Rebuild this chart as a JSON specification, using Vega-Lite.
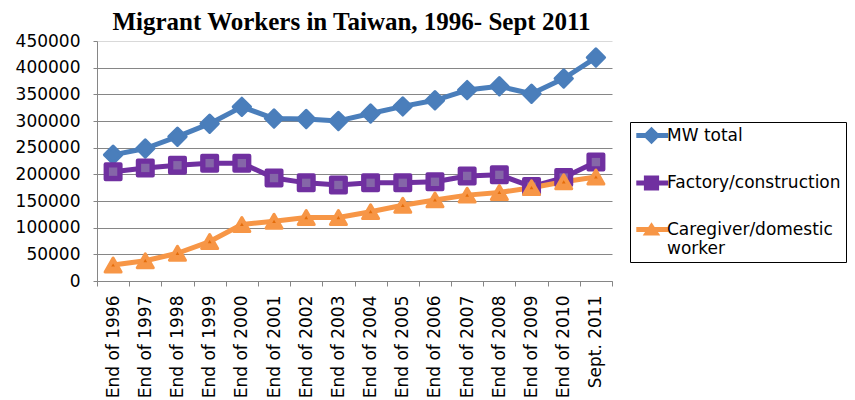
{
  "$schema": "https://vega.github.io/schema/vega-lite/v6.json",
  "autosize": "none",
  "width": 515,
  "height": 240,
  "padding": {"left": 97, "top": 41, "right": 243, "bottom": 119},
  "background": "white",
  "config": {
    "view": {"stroke": null},
    "font": "DejaVu Sans"
  },
  "title": {
    "text": "Migrant Workers in Taiwan, 1996- Sept 2011",
    "font": "Liberation Serif",
    "fontSize": 25,
    "fontWeight": "bold",
    "color": "black",
    "anchor": "middle",
    "frame": "group",
    "baseline": "alphabetic",
    "offset": -23,
    "dx": -3
  },
  "data": {
    "values": [
      {"period": "End of 1996", "series": "MW total", "value": 236555},
      {"period": "End of 1997", "series": "MW total", "value": 248396},
      {"period": "End of 1998", "series": "MW total", "value": 270620},
      {"period": "End of 1999", "series": "MW total", "value": 294967},
      {"period": "End of 2000", "series": "MW total", "value": 326515},
      {"period": "End of 2001", "series": "MW total", "value": 304605},
      {"period": "End of 2002", "series": "MW total", "value": 303684},
      {"period": "End of 2003", "series": "MW total", "value": 300150},
      {"period": "End of 2004", "series": "MW total", "value": 314034},
      {"period": "End of 2005", "series": "MW total", "value": 327396},
      {"period": "End of 2006", "series": "MW total", "value": 338755},
      {"period": "End of 2007", "series": "MW total", "value": 357937},
      {"period": "End of  2008", "series": "MW total", "value": 365060},
      {"period": "End of 2009", "series": "MW total", "value": 351016},
      {"period": "End of 2010", "series": "MW total", "value": 379653},
      {"period": "Sept. 2011", "series": "MW total", "value": 419000},
      {"period": "End of 1996", "series": "Factory/construction", "value": 205000},
      {"period": "End of 1997", "series": "Factory/construction", "value": 212000},
      {"period": "End of 1998", "series": "Factory/construction", "value": 217000},
      {"period": "End of 1999", "series": "Factory/construction", "value": 221000},
      {"period": "End of 2000", "series": "Factory/construction", "value": 221000},
      {"period": "End of 2001", "series": "Factory/construction", "value": 193000},
      {"period": "End of 2002", "series": "Factory/construction", "value": 184000},
      {"period": "End of 2003", "series": "Factory/construction", "value": 180000},
      {"period": "End of 2004", "series": "Factory/construction", "value": 184000},
      {"period": "End of 2005", "series": "Factory/construction", "value": 184000},
      {"period": "End of 2006", "series": "Factory/construction", "value": 186000},
      {"period": "End of 2007", "series": "Factory/construction", "value": 197000},
      {"period": "End of  2008", "series": "Factory/construction", "value": 199000},
      {"period": "End of 2009", "series": "Factory/construction", "value": 177000},
      {"period": "End of 2010", "series": "Factory/construction", "value": 194000},
      {"period": "Sept. 2011", "series": "Factory/construction", "value": 223000},
      {"period": "End of 1996", "series": "Caregiver/domestic worker", "value": 30000},
      {"period": "End of 1997", "series": "Caregiver/domestic worker", "value": 38000},
      {"period": "End of 1998", "series": "Caregiver/domestic worker", "value": 52000},
      {"period": "End of 1999", "series": "Caregiver/domestic worker", "value": 74000},
      {"period": "End of 2000", "series": "Caregiver/domestic worker", "value": 106000},
      {"period": "End of 2001", "series": "Caregiver/domestic worker", "value": 112000},
      {"period": "End of 2002", "series": "Caregiver/domestic worker", "value": 119000},
      {"period": "End of 2003", "series": "Caregiver/domestic worker", "value": 119000},
      {"period": "End of 2004", "series": "Caregiver/domestic worker", "value": 130000},
      {"period": "End of 2005", "series": "Caregiver/domestic worker", "value": 142000},
      {"period": "End of 2006", "series": "Caregiver/domestic worker", "value": 152000},
      {"period": "End of 2007", "series": "Caregiver/domestic worker", "value": 161000},
      {"period": "End of  2008", "series": "Caregiver/domestic worker", "value": 166000},
      {"period": "End of 2009", "series": "Caregiver/domestic worker", "value": 175000},
      {"period": "End of 2010", "series": "Caregiver/domestic worker", "value": 186000},
      {"period": "Sept. 2011", "series": "Caregiver/domestic worker", "value": 195000}
    ]
  },
  "encoding": {
    "x": {
      "field": "period",
      "type": "ordinal",
      "sort": null,
      "scale": {"type": "band", "paddingInner": 0, "paddingOuter": 0},
      "axis": {
        "title": null,
        "labelAngle": -90,
        "labelAlign": "right",
        "labelBaseline": "middle",
        "labelFont": "DejaVu Sans",
        "labelFontSize": 17,
        "labelColor": "black",
        "labelPadding": 9,
        "tickBand": "extent",
        "tickSize": 5,
        "tickColor": "#868686",
        "domainColor": "#868686",
        "grid": false
      }
    },
    "y": {
      "field": "value",
      "type": "quantitative",
      "scale": {"domain": [0, 450000], "nice": false},
      "axis": {
        "title": null,
        "values": [0, 50000, 100000, 150000, 200000, 250000, 300000, 350000, 400000, 450000],
        "format": "d",
        "labelFont": "DejaVu Sans",
        "labelFontSize": 17,
        "labelColor": "black",
        "labelPadding": 13,
        "tickSize": 4,
        "tickColor": "#868686",
        "domainColor": "#868686",
        "grid": true,
        "gridColor": {"condition": {"test": "datum.value == 450000", "value": "#d9d9d9"}, "value": "#868686"}
      }
    }
  },
  "layer": [
    {
      "mark": {"type": "line", "strokeWidth": 5, "strokeJoin": "round"},
      "encoding": {
        "color": {
          "field": "series",
          "type": "nominal",
          "sort": null,
          "scale": {
            "domain": ["MW total", "Factory/construction", "Caregiver/domestic worker"],
            "range": ["#4A7EBB", "#7030A0", "#F79646"]
          },
          "legend": {
            "title": null,
            "orient": "none",
            "legendX": 533,
            "legendY": 81,
            "padding": 5,
            "strokeColor": "black",
            "fillColor": "white",
            "symbolSize": 256,
            "symbolOffset": 8,
            "labelOffset": 7,
            "labelFont": "DejaVu Sans",
            "labelFontSize": 17,
            "labelColor": "black",
            "labelLimit": 400,
            "rowPadding": 28.5,
            "labelExpr": "datum.label == 'Caregiver/domestic worker' ? ['Caregiver/domestic', 'worker'] : datum.label",
            "encode": {
              "symbols": {
                "update": {
                  "shape": {"signal": "datum.value == 'MW total' ? 'M-1.9,-0.3H2.1V0.3H-1.9Z M0,-1.1L1.1,0L0,1.1L-1.1,0Z' : datum.value == 'Factory/construction' ? 'M-1.9,-0.3H2.1V0.3H-1.9Z M-0.95,-0.95H0.95V0.95H-0.95Z' : 'M-1.9,-0.3H2.1V0.3H-1.9Z M0,-0.9L1.1,0.75H-1.1Z'"},
                  "fill": {"signal": "datum.value == 'MW total' ? '#4A7EBB' : datum.value == 'Factory/construction' ? '#7030A0' : '#F79646'"},
                  "fillOpacity": {"value": 1},
                  "strokeWidth": {"value": 0},
                  "opacity": {"value": 1}
                }
              }
            }
          }
        }
      }
    },
    {
      "transform": [{"filter": "datum.series == 'MW total'"}],
      "mark": {"type": "point", "shape": "diamond", "filled": true, "opacity": 1, "size": 300, "color": "#4A7EBB", "stroke": "#4A7EBB", "strokeWidth": 3, "strokeJoin": "round"}
    },
    {
      "transform": [{"filter": "datum.series == 'Factory/construction'"}],
      "mark": {"type": "point", "shape": "square", "filled": true, "opacity": 1, "size": 225, "color": "#7030A0", "stroke": "#7030A0", "strokeWidth": 4, "strokeJoin": "round"}
    },
    {
      "transform": [{"filter": "datum.series == 'Factory/construction'"}],
      "mark": {"type": "point", "shape": "square", "filled": true, "opacity": 1, "size": 70, "color": "#8566A8", "strokeWidth": 0}
    },
    {
      "transform": [{"filter": "datum.series == 'Caregiver/domestic worker'"}],
      "mark": {"type": "point", "shape": "triangle-up", "filled": true, "opacity": 1, "size": 256, "color": "#F79646", "stroke": "#F79646", "strokeWidth": 3, "strokeJoin": "round"}
    },
    {
      "transform": [{"filter": "datum.series == 'Caregiver/domestic worker'"}],
      "mark": {"type": "point", "shape": "triangle-up", "filled": true, "opacity": 1, "size": 14, "color": "#E46C0A", "strokeWidth": 0}
    }
  ]
}
